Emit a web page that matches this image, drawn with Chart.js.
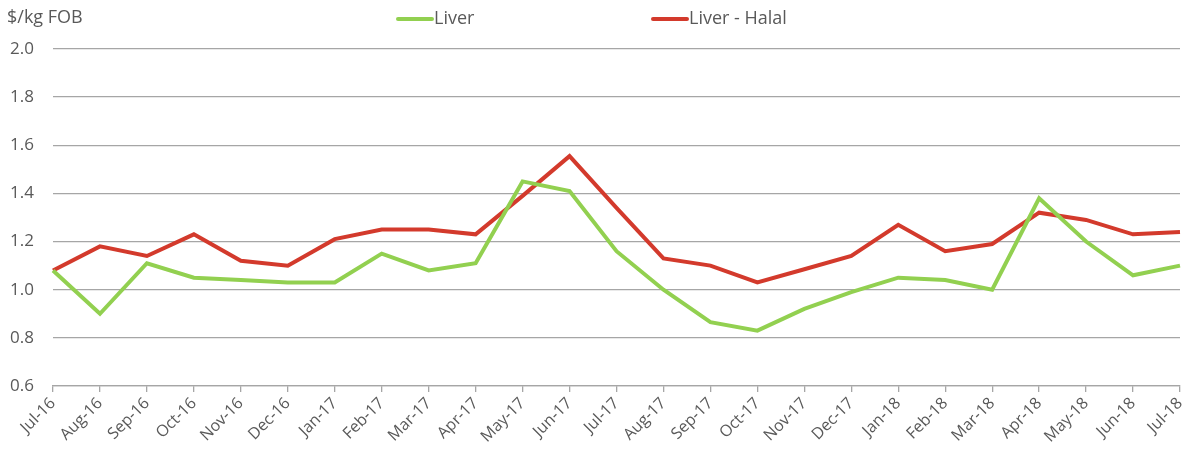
<!DOCTYPE html>
<html>
<head>
<meta charset="utf-8">
<script src="https://cdn.jsdelivr.net/npm/chart.js@4"></script>
<style>
  html, body { margin: 0; padding: 0; background: #fff; }
  #wrap { position: relative; width: 1190px; height: 457px; }
</style>
</head>
<body>
<div id="wrap"><canvas id="chart"></canvas></div>
<script>
const months = ["Jul-16", "Aug-16", "Sep-16", "Oct-16", "Nov-16", "Dec-16", "Jan-17", "Feb-17", "Mar-17",
  "Apr-17", "May-17", "Jun-17", "Jul-17", "Aug-17", "Sep-17", "Oct-17", "Nov-17", "Dec-17", "Jan-18",
  "Feb-18", "Mar-18", "Apr-18", "May-18", "Jun-18", "Jul-18"];
const liver = [1.08, 0.90, 1.11, 1.05, 1.04, 1.03, 1.03, 1.15, 1.08, 1.11, 1.45, 1.41, 1.16,
  1.00, 0.865, 0.83, 0.92, 0.99, 1.05, 1.04, 1.00, 1.38, 1.20, 1.06, 1.10];
const liverHalal = [1.08, 1.18, 1.14, 1.23, 1.12, 1.10, 1.21, 1.25, 1.25, 1.23, 1.39, 1.555, 1.34,
  1.13, 1.10, 1.03, 1.085, 1.14, 1.27, 1.16, 1.19, 1.32, 1.29, 1.23, 1.24];
const yTicks = [0.6, 0.8, 1.0, 1.2, 1.4, 1.6, 1.8, 2.0];
const unitLabel = "$/kg FOB";

const FONT = "'Open Sans', sans-serif";
const TEXT = "#595959";

// titre unite + legende dessinee a la main
const topText = {
  id: "topText",
  afterDraw(chart) {
    const ctx = chart.ctx;
    ctx.save();
    ctx.fillStyle = TEXT;
    ctx.font = "18px " + FONT;
    ctx.textBaseline = "middle";
    ctx.textAlign = "left";
    ctx.fillText(unitLabel, 7, 18);

    const xs = [398, 653];
    chart.data.datasets.forEach((ds, i) => {
      ctx.strokeStyle = ds.borderColor;
      ctx.lineWidth = 4;
      ctx.lineCap = "round";
      ctx.beginPath();
      ctx.moveTo(xs[i], 19);
      ctx.lineTo(xs[i] + 34, 19);
      ctx.stroke();
      ctx.fillStyle = TEXT;
      ctx.font = "18px " + FONT;
      ctx.fillText(ds.label, xs[i] + 36, 19);
    });
    ctx.restore();
  }
};

new Chart(document.getElementById("chart"), {
  type: "line",
  data: {
    labels: months,
    datasets: [
      { label: "Liver", data: liver, borderColor: "#92d050", backgroundColor: "#92d050",
        borderWidth: 4, pointRadius: 0, tension: 0 },
      { label: "Liver - Halal", data: liverHalal, borderColor: "#d33a2c", backgroundColor: "#d33a2c",
        borderWidth: 4, pointRadius: 0, tension: 0 }
    ]
  },
  options: {
    responsive: true,
    maintainAspectRatio: false,
    animation: false,
    layout: { padding: { top: 49, left: 6, right: 10, bottom: 0 } },
    plugins: {
      legend: { display: false },
      tooltip: { enabled: false }
    },
    scales: {
      x: {
        offset: false,
        grid: { display: true, drawOnChartArea: false, drawTicks: true, tickLength: 6, color: "#a6a6a6", lineWidth: 1.3 },
        border: { display: true, color: "#a6a6a6", width: 1.3 },
        ticks: { color: TEXT, font: { family: FONT, size: 16 }, minRotation: 45, maxRotation: 45, autoSkip: false, padding: 2 },
        afterFit(scale) {
          scale.paddingLeft = 0;
          scale.paddingRight = 0;
          scale.height = 71;
        }
      },
      y: {
        min: 0.6,
        max: 2.0,
        afterBuildTicks(scale) { scale.ticks = yTicks.map(v => ({ value: v })); },
        grid: { color: "#a6a6a6", lineWidth: 1.3, drawTicks: false },
        border: { display: false },
        ticks: { color: TEXT, font: { family: FONT, size: 17 }, padding: 19,
          callback: v => Number(v).toFixed(1) },
        afterFit(scale) {
          scale.width = 47;
          scale.paddingTop = 0;
          scale.paddingBottom = 0;
        }
      }
    }
  },
  plugins: [topText]
});
</script>
</body>
</html>
